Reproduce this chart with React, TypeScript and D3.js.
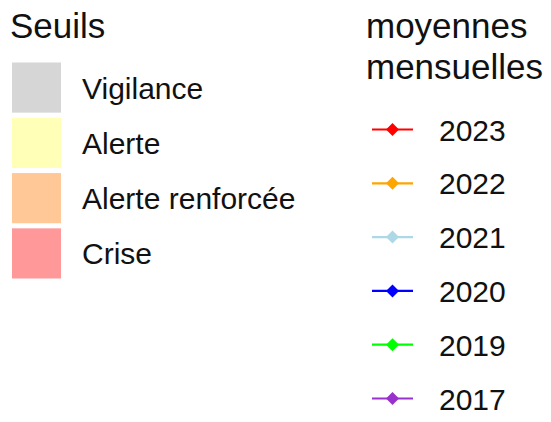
import React from "react";
import * as d3 from "d3";

const seuilLabels = ["Vigilance", "Alerte", "Alerte renforcée", "Crise"];
const seuilColors = ["#d6d6d6", "#ffffb8", "#ffc896", "#ff9999"];
const yearLabels = ["2023", "2022", "2021", "2020", "2019", "2017"];
const yearColors = ["#ff0000", "#ffa500", "#add8e6", "#0000ff", "#00ff00", "#9932cc"];

const W = 551;
const H = 422;
const FONT = "'Liberation Sans', Arial, sans-serif";

export default function App() {
  const ySeuil = d3
    .scaleBand<string>()
    .domain(seuilLabels)
    .range([62.5, 62.5 + 54 * seuilLabels.length])
    .paddingInner(5 / 54)
    .paddingOuter(0);
  const yYear = d3
    .scalePoint<string>()
    .domain(yearLabels)
    .range([129.5, 129.5 + 53.8 * (yearLabels.length - 1)]);
  const diamond = d3.symbol(d3.symbolSquare, 84)();

  return (
    <svg
      width={W}
      height={H}
      style={{ position: "absolute", left: 0, top: 0, background: "#fff" }}
      fontFamily={FONT}
    >
      <rect width={W} height={H} fill="#fff" />
      <text x={10} y={38} fontSize={35} fill="#111">
        Seuils
      </text>
      {seuilLabels.map((s, i) => (
        <g key={s}>
          <rect
            x={12}
            y={ySeuil(s)}
            width={49}
            height={ySeuil.bandwidth()}
            fill={seuilColors[i]}
          />
          <text
            x={82}
            y={(ySeuil(s) as number) + ySeuil.bandwidth() / 2 + 11}
            fontSize={30}
            fill="#111"
          >
            {s}
          </text>
        </g>
      ))}
      <text x={366} y={38} fontSize={35} fill="#111">
        moyennes
      </text>
      <text x={366} y={79} fontSize={35} fill="#111">
        mensuelles
      </text>
      {yearLabels.map((y, i) => {
        const cy = yYear(y) as number;
        return (
          <g key={y}>
            <line x1={372} x2={413} y1={cy} y2={cy} stroke={yearColors[i]} strokeWidth={2.2} />
            <path
              d={diamond as string}
              transform={`translate(392.5,${cy}) rotate(45)`}
              fill={yearColors[i]}
            />
            <text x={439} y={cy + 11} fontSize={30} fill="#111">
              {y}
            </text>
          </g>
        );
      })}
    </svg>
  );
}
